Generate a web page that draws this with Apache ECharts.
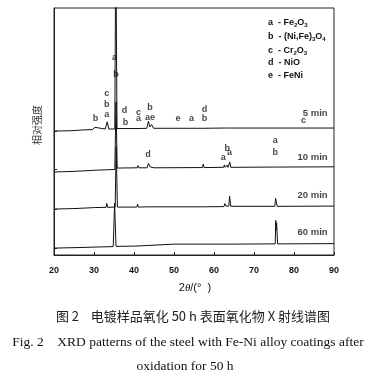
<!DOCTYPE html>
<html><head><meta charset="utf-8">
<script src="https://cdn.jsdelivr.net/npm/echarts@6/dist/echarts.min.js"></script>
<style>html,body{margin:0;padding:0;background:#fff}#c{width:374px;height:379px}</style>
</head><body><div id="c"></div>
<script>
// x tick labels
const xTicks = [20, 30, 40, 50, 60, 70, 80, 90];
// baselines of the four patterns (offset units, for y ticks)
const baseTicks = [2.8, 18.6, 34.8, 50.2];
// XRD traces [2theta, offset intensity]
const trace5 = [[20,50.2],[24,50.3],[27,50.6],[29.6,50.8],[30.2,51.7],[30.6,50.9],[32.8,51.0],[33.3,53.9],[33.7,51.0],[35.2,51.0],[35.45,130],[35.75,51.2],[37.3,51.2],[37.5,51.8],[37.7,51.2],[41,51.2],[41.2,51.6],[41.4,51.2],[43.2,51.3],[43.6,54.1],[44.0,51.8],[44.4,52.8],[44.9,51.3],[51,51.3],[51.2,51.6],[51.4,51.3],[54.1,51.3],[54.3,51.7],[54.5,51.3],[57.2,51.3],[57.4,51.9],[57.6,51.3],[62.6,51.4],[63.0,52.2],[63.4,51.4],[82.3,51.4],[82.5,51.7],[82.7,51.4],[90,51.4]];
const trace10 = [[20,33.6],[24,33.8],[28,34.1],[30,34.3],[30.2,34.8],[30.4,34.3],[33.1,34.5],[33.3,35.3],[33.5,34.5],[35.2,34.6],[35.5,62],[35.8,35.2],[40.8,35.3],[41,36.2],[41.2,35.3],[43.3,35.3],[43.6,37.1],[44.1,35.6],[45,35.3],[57.1,35.4],[57.3,36.8],[57.5,35.4],[62.4,35.5],[62.6,36.5],[62.8,35.5],[63.2,35.5],[63.3,36.4],[63.5,35.5],[63.8,35.5],[63.95,37.6],[64.2,35.5],[75.2,35.6],[75.5,36.4],[75.8,35.6],[90,35.7]];
const trace20 = [[20,18.6],[25,18.8],[29,19.1],[30.1,19.2],[30.3,20.0],[30.5,19.2],[33.0,19.3],[33.2,20.9],[33.4,19.3],[35.3,19.4],[35.55,44],[35.85,19.4],[40.7,19.4],[40.9,20.6],[41.1,19.4],[43.3,19.5],[43.5,20.3],[43.7,19.5],[57.1,19.5],[57.3,20.3],[57.5,19.5],[62.5,19.6],[62.7,20.8],[63.0,19.8],[63.7,19.8],[63.9,23.8],[64.2,19.7],[75.2,19.7],[75.4,22.9],[75.8,19.7],[90,19.8]];
const trace60 = [[20,2.8],[26,3.0],[30,3.2],[34.8,3.4],[35.15,21],[35.5,3.5],[40.3,3.6],[40.6,4.3],[50,4.4],[62.8,4.4],[63.0,5.0],[63.2,4.4],[63.8,4.4],[64.0,5.0],[64.2,4.4],[75.3,4.5],[75.45,14],[75.55,10],[75.65,13],[75.9,4.5],[90,4.6]];
// peak letters [2theta, y, text]
const peakLabels = [[35.1,80.0,'a'],[35.5,72.9,'b'],[33.2,65.5,'c'],[33.2,61.0,'b'],[33.2,56.7,'a'],[30.4,55.1,'b'],[37.6,58.3,'d'],[37.9,53.8,'b'],[41.1,57.6,'c'],[41.1,55.3,'a'],[44.0,59.8,'b'],[44.0,55.7,'ae'],[51.0,55.3,'e'],[54.4,55.3,'a'],[57.6,59.0,'d'],[57.6,55.3,'b'],[82.4,54.4,'c'],[75.3,46.2,'a'],[75.3,41.4,'b'],[43.5,40.5,'d'],[63.3,43.2,'b'],[63.9,41.6,'a'],[62.3,39.4,'a']];
// pattern names [right x, y, text]
const timeLabels = [[88.4,57.4,'5 min'],[88.4,39.4,'10 min'],[88.4,24.2,'20 min'],[88.4,9.2,'60 min']];
// phase legend
const phases = ['a  - Fe{s|2}O{s|3}','b  - (Ni,Fe){s|3}O{s|4}','c  - Cr{s|2}O{s|3}','d  - NiO','e  - FeNi'];

const chart = echarts.init(document.getElementById('c'), null, {renderer:'canvas'});
const lineS = (d) => ({type:'line', data:d, showSymbol:false, symbol:'none', silent:true, animation:false,
  lineStyle:{color:'#111', width:1}, clip:true});
const lblFont = {fontFamily:'Liberation Sans, Arial', fontWeight:'bold', fontSize:9, color:'#111'};
const gText = [];
phases.forEach((p,i)=>{
  gText.push({type:'text', x:268, y:[22.7,36.7,50.7,62.7,76][i], silent:true,
    style:{text:p, fill:'#111', font:'bold 9px "Liberation Sans", Arial', verticalAlign:'middle',
      rich:{s:{fontSize:6, fontWeight:'bold', fontFamily:'Liberation Sans', fill:'#111', padding:[5,0,0,0]}}}});
});
gText.push({type:'text', x:37, y:125, rotation:Math.PI/2, silent:true,
  style:{text:'相对强度', fill:'#333', font:'10px "Noto Sans CJK SC"', align:'center', verticalAlign:'middle'}});
gText.push({type:'text', x:195, y:288, silent:true,
  style:{text:'2{i|θ}/(°  )', fill:'#111', font:'11px "Liberation Sans", Arial', align:'center', verticalAlign:'middle',
    rich:{i:{fontStyle:'italic', fontSize:11, fontFamily:'Liberation Serif', fill:'#111'}}}});
gText.push({type:'text', x:193, y:316, silent:true,
  style:{text:'图 2    电镀样品氧化 50 h 表面氧化物 X 射线谱图', fill:'#222', font:'13px "Noto Sans CJK SC"', align:'center', verticalAlign:'middle'}});
gText.push({type:'text', x:188, y:342, silent:true,
  style:{text:'Fig. 2    XRD patterns of the steel with Fe-Ni alloy coatings after', fill:'#111', font:'13.5px "Liberation Serif"', align:'center', verticalAlign:'middle'}});
gText.push({type:'text', x:185, y:366, silent:true,
  style:{text:'oxidation for 50 h', fill:'#111', font:'13.5px "Liberation Serif"', align:'center', verticalAlign:'middle'}});

chart.setOption({
  animation:false,
  backgroundColor:'#fff',
  grid:{left:54, right:40, top:8, bottom:124, show:true, borderColor:'#222', borderWidth:1, backgroundColor:'transparent'},
  xAxis:{type:'value', min:xTicks[0], max:xTicks[xTicks.length-1], interval:10,
    axisLine:{lineStyle:{color:'#222', width:1}}, splitLine:{show:false},
    axisTick:{inside:true, length:3, lineStyle:{color:'#222'}},
    axisLabel:{margin:11, fontFamily:'Liberation Sans, Arial', fontWeight:'bold', fontSize:9, color:'#111',
      formatter:(v)=> xTicks.includes(v) ? String(v) : ''}},
  yAxis:{type:'value', min:0, max:100, axisLine:{show:true, lineStyle:{color:'#222'}}, splitLine:{show:false},
    axisLabel:{show:false}, axisTick:{show:true, inside:true, length:3, customValues:baseTicks, lineStyle:{color:'#222'}}},
  series:[
    lineS(trace60), lineS(trace20), lineS(trace10), lineS(trace5),
    {type:'scatter', data:peakLabels.map(d=>({value:[d[0],d[1]], name:d[2]})), symbolSize:0, silent:true, animation:false,
      label:{show:true, position:'inside', formatter:(p)=>p.name, ...lblFont}},
    {type:'scatter', data:timeLabels.map(d=>({value:[d[0],d[1]], name:d[2]})), symbolSize:0, silent:true, animation:false,
      label:{show:true, position:'left', distance:0, formatter:(p)=>p.name, ...lblFont, fontSize:9.5}}
  ],
  graphic:gText
});
</script></body></html>
